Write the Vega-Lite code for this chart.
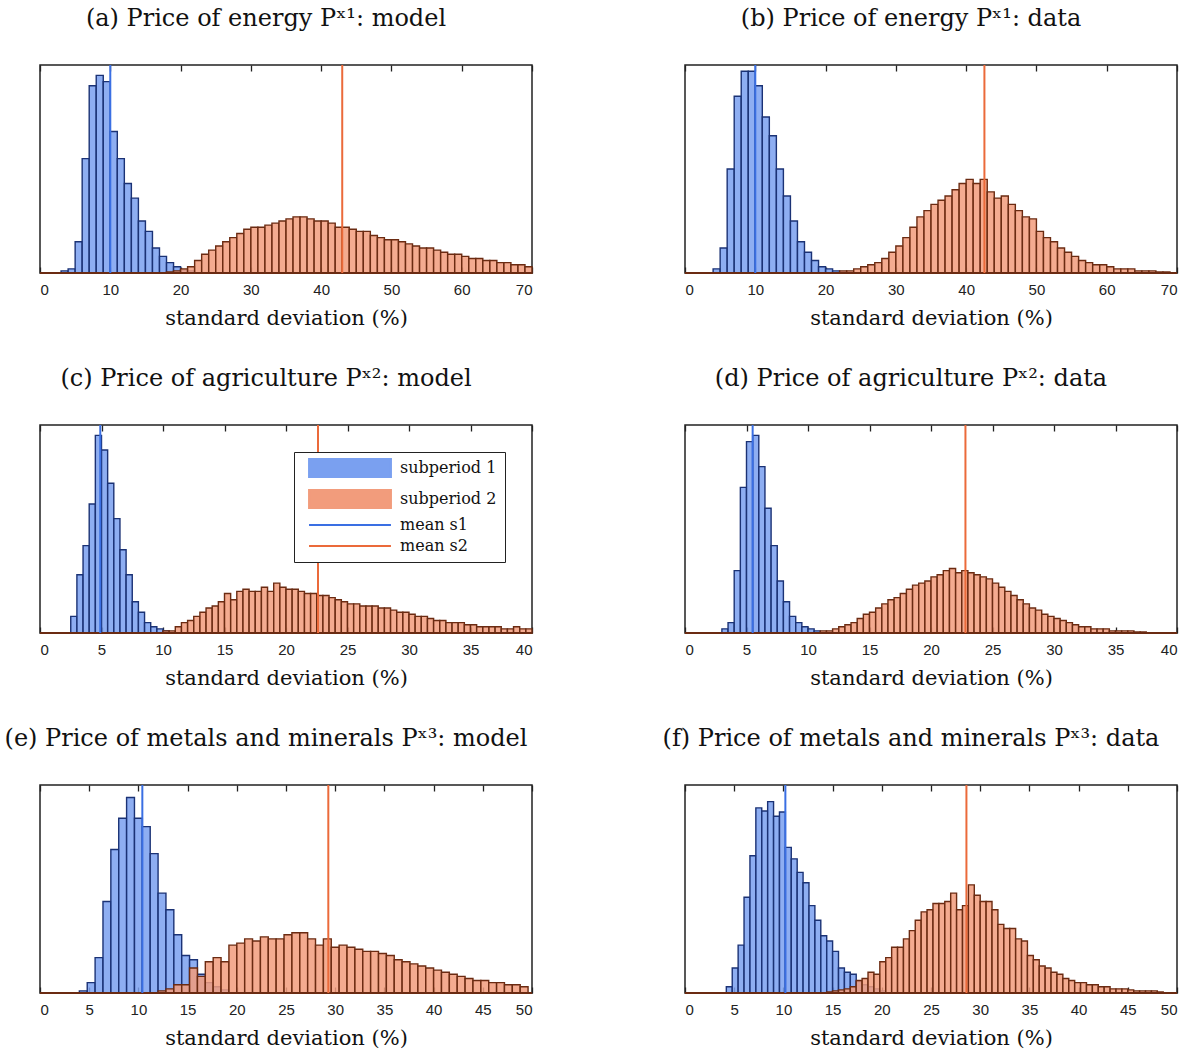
{
  "$schema": "https://vega.github.io/schema/vega-lite/v6.json",
  "padding": {"left": 3, "top": 6, "right": 5, "bottom": 5},
  "background": "white",
  "config": {
    "view": {"stroke": "#222", "strokeWidth": 1.5},
    "axis": {"domain": false, "grid": false, "tickColor": "#222", "tickSize": -6, "tickWidth": 1.3, "labelFont": "Liberation Sans", "labelFontSize": 15, "labelColor": "#222", "labelPadding": 15, "titleFont": "DejaVu Serif", "titleFontSize": 21, "titleFontWeight": "normal", "titleColor": "#111", "titlePadding": 10},
    "title": {"font": "DejaVu Serif", "fontSize": 24, "fontWeight": "normal", "color": "#111", "offset": 33, "dx": -20}
  },
  "datasets": {
    "bars": [
      {"p":"a","s":"subperiod 1","x0":3,"x1":4,"h":0.01},{"p":"a","s":"subperiod 1","x0":4,"x1":5,"h":0.02},{"p":"a","s":"subperiod 1","x0":5,"x1":6,"h":0.15},{"p":"a","s":"subperiod 1","x0":6,"x1":7,"h":0.55},{"p":"a","s":"subperiod 1","x0":7,"x1":8,"h":0.9},{"p":"a","s":"subperiod 1","x0":8,"x1":9,"h":0.95},{"p":"a","s":"subperiod 1","x0":9,"x1":10,"h":0.92},{"p":"a","s":"subperiod 1","x0":10,"x1":11,"h":0.68},{"p":"a","s":"subperiod 1","x0":11,"x1":12,"h":0.55},{"p":"a","s":"subperiod 1","x0":12,"x1":13,"h":0.43},{"p":"a","s":"subperiod 1","x0":13,"x1":14,"h":0.36},{"p":"a","s":"subperiod 1","x0":14,"x1":15,"h":0.25},{"p":"a","s":"subperiod 1","x0":15,"x1":16,"h":0.2},{"p":"a","s":"subperiod 1","x0":16,"x1":17,"h":0.12},{"p":"a","s":"subperiod 1","x0":17,"x1":18,"h":0.08},{"p":"a","s":"subperiod 1","x0":18,"x1":19,"h":0.05},{"p":"a","s":"subperiod 1","x0":19,"x1":20,"h":0.03},{"p":"a","s":"subperiod 1","x0":20,"x1":21,"h":0.015},{"p":"a","s":"subperiod 1","x0":21,"x1":22,"h":0.01},
      {"p":"a","s":"subperiod 2","x0":18,"x1":19,"h":0.005},{"p":"a","s":"subperiod 2","x0":19,"x1":20,"h":0.01},{"p":"a","s":"subperiod 2","x0":20,"x1":21,"h":0.02},{"p":"a","s":"subperiod 2","x0":21,"x1":22,"h":0.03},{"p":"a","s":"subperiod 2","x0":22,"x1":23,"h":0.06},{"p":"a","s":"subperiod 2","x0":23,"x1":24,"h":0.09},{"p":"a","s":"subperiod 2","x0":24,"x1":25,"h":0.11},{"p":"a","s":"subperiod 2","x0":25,"x1":26,"h":0.13},{"p":"a","s":"subperiod 2","x0":26,"x1":27,"h":0.15},{"p":"a","s":"subperiod 2","x0":27,"x1":28,"h":0.17},{"p":"a","s":"subperiod 2","x0":28,"x1":29,"h":0.19},{"p":"a","s":"subperiod 2","x0":29,"x1":30,"h":0.21},{"p":"a","s":"subperiod 2","x0":30,"x1":31,"h":0.22},{"p":"a","s":"subperiod 2","x0":31,"x1":32,"h":0.22},{"p":"a","s":"subperiod 2","x0":32,"x1":33,"h":0.23},{"p":"a","s":"subperiod 2","x0":33,"x1":34,"h":0.24},{"p":"a","s":"subperiod 2","x0":34,"x1":35,"h":0.25},{"p":"a","s":"subperiod 2","x0":35,"x1":36,"h":0.26},{"p":"a","s":"subperiod 2","x0":36,"x1":37,"h":0.27},{"p":"a","s":"subperiod 2","x0":37,"x1":38,"h":0.27},{"p":"a","s":"subperiod 2","x0":38,"x1":39,"h":0.26},{"p":"a","s":"subperiod 2","x0":39,"x1":40,"h":0.25},{"p":"a","s":"subperiod 2","x0":40,"x1":41,"h":0.25},{"p":"a","s":"subperiod 2","x0":41,"x1":42,"h":0.24},{"p":"a","s":"subperiod 2","x0":42,"x1":43,"h":0.22},{"p":"a","s":"subperiod 2","x0":43,"x1":44,"h":0.22},{"p":"a","s":"subperiod 2","x0":44,"x1":45,"h":0.21},{"p":"a","s":"subperiod 2","x0":45,"x1":46,"h":0.2},{"p":"a","s":"subperiod 2","x0":46,"x1":47,"h":0.2},{"p":"a","s":"subperiod 2","x0":47,"x1":48,"h":0.18},{"p":"a","s":"subperiod 2","x0":48,"x1":49,"h":0.17},{"p":"a","s":"subperiod 2","x0":49,"x1":50,"h":0.16},{"p":"a","s":"subperiod 2","x0":50,"x1":51,"h":0.16},{"p":"a","s":"subperiod 2","x0":51,"x1":52,"h":0.15},{"p":"a","s":"subperiod 2","x0":52,"x1":53,"h":0.14},{"p":"a","s":"subperiod 2","x0":53,"x1":54,"h":0.13},{"p":"a","s":"subperiod 2","x0":54,"x1":55,"h":0.12},{"p":"a","s":"subperiod 2","x0":55,"x1":56,"h":0.12},{"p":"a","s":"subperiod 2","x0":56,"x1":57,"h":0.11},{"p":"a","s":"subperiod 2","x0":57,"x1":58,"h":0.1},{"p":"a","s":"subperiod 2","x0":58,"x1":59,"h":0.09},{"p":"a","s":"subperiod 2","x0":59,"x1":60,"h":0.09},{"p":"a","s":"subperiod 2","x0":60,"x1":61,"h":0.08},{"p":"a","s":"subperiod 2","x0":61,"x1":62,"h":0.07},{"p":"a","s":"subperiod 2","x0":62,"x1":63,"h":0.07},{"p":"a","s":"subperiod 2","x0":63,"x1":64,"h":0.06},{"p":"a","s":"subperiod 2","x0":64,"x1":65,"h":0.06},{"p":"a","s":"subperiod 2","x0":65,"x1":66,"h":0.05},{"p":"a","s":"subperiod 2","x0":66,"x1":67,"h":0.05},{"p":"a","s":"subperiod 2","x0":67,"x1":68,"h":0.04},{"p":"a","s":"subperiod 2","x0":68,"x1":69,"h":0.04},{"p":"a","s":"subperiod 2","x0":69,"x1":70,"h":0.03},

      {"p":"b","s":"subperiod 1","x0":4,"x1":5,"h":0.02},{"p":"b","s":"subperiod 1","x0":5,"x1":6,"h":0.12},{"p":"b","s":"subperiod 1","x0":6,"x1":7,"h":0.5},{"p":"b","s":"subperiod 1","x0":7,"x1":8,"h":0.85},{"p":"b","s":"subperiod 1","x0":8,"x1":9,"h":0.97},{"p":"b","s":"subperiod 1","x0":9,"x1":10,"h":0.97},{"p":"b","s":"subperiod 1","x0":10,"x1":11,"h":0.9},{"p":"b","s":"subperiod 1","x0":11,"x1":12,"h":0.75},{"p":"b","s":"subperiod 1","x0":12,"x1":13,"h":0.66},{"p":"b","s":"subperiod 1","x0":13,"x1":14,"h":0.5},{"p":"b","s":"subperiod 1","x0":14,"x1":15,"h":0.37},{"p":"b","s":"subperiod 1","x0":15,"x1":16,"h":0.25},{"p":"b","s":"subperiod 1","x0":16,"x1":17,"h":0.15},{"p":"b","s":"subperiod 1","x0":17,"x1":18,"h":0.1},{"p":"b","s":"subperiod 1","x0":18,"x1":19,"h":0.06},{"p":"b","s":"subperiod 1","x0":19,"x1":20,"h":0.03},{"p":"b","s":"subperiod 1","x0":20,"x1":21,"h":0.02},{"p":"b","s":"subperiod 1","x0":21,"x1":22,"h":0.01},{"p":"b","s":"subperiod 1","x0":22,"x1":23,"h":0.005},
      {"p":"b","s":"subperiod 2","x0":22,"x1":23,"h":0.01},{"p":"b","s":"subperiod 2","x0":23,"x1":24,"h":0.01},{"p":"b","s":"subperiod 2","x0":24,"x1":25,"h":0.02},{"p":"b","s":"subperiod 2","x0":25,"x1":26,"h":0.03},{"p":"b","s":"subperiod 2","x0":26,"x1":27,"h":0.04},{"p":"b","s":"subperiod 2","x0":27,"x1":28,"h":0.05},{"p":"b","s":"subperiod 2","x0":28,"x1":29,"h":0.07},{"p":"b","s":"subperiod 2","x0":29,"x1":30,"h":0.1},{"p":"b","s":"subperiod 2","x0":30,"x1":31,"h":0.13},{"p":"b","s":"subperiod 2","x0":31,"x1":32,"h":0.17},{"p":"b","s":"subperiod 2","x0":32,"x1":33,"h":0.22},{"p":"b","s":"subperiod 2","x0":33,"x1":34,"h":0.27},{"p":"b","s":"subperiod 2","x0":34,"x1":35,"h":0.3},{"p":"b","s":"subperiod 2","x0":35,"x1":36,"h":0.33},{"p":"b","s":"subperiod 2","x0":36,"x1":37,"h":0.35},{"p":"b","s":"subperiod 2","x0":37,"x1":38,"h":0.37},{"p":"b","s":"subperiod 2","x0":38,"x1":39,"h":0.4},{"p":"b","s":"subperiod 2","x0":39,"x1":40,"h":0.43},{"p":"b","s":"subperiod 2","x0":40,"x1":41,"h":0.45},{"p":"b","s":"subperiod 2","x0":41,"x1":42,"h":0.43},{"p":"b","s":"subperiod 2","x0":42,"x1":43,"h":0.45},{"p":"b","s":"subperiod 2","x0":43,"x1":44,"h":0.39},{"p":"b","s":"subperiod 2","x0":44,"x1":45,"h":0.36},{"p":"b","s":"subperiod 2","x0":45,"x1":46,"h":0.37},{"p":"b","s":"subperiod 2","x0":46,"x1":47,"h":0.33},{"p":"b","s":"subperiod 2","x0":47,"x1":48,"h":0.3},{"p":"b","s":"subperiod 2","x0":48,"x1":49,"h":0.27},{"p":"b","s":"subperiod 2","x0":49,"x1":50,"h":0.26},{"p":"b","s":"subperiod 2","x0":50,"x1":51,"h":0.2},{"p":"b","s":"subperiod 2","x0":51,"x1":52,"h":0.17},{"p":"b","s":"subperiod 2","x0":52,"x1":53,"h":0.15},{"p":"b","s":"subperiod 2","x0":53,"x1":54,"h":0.12},{"p":"b","s":"subperiod 2","x0":54,"x1":55,"h":0.1},{"p":"b","s":"subperiod 2","x0":55,"x1":56,"h":0.08},{"p":"b","s":"subperiod 2","x0":56,"x1":57,"h":0.06},{"p":"b","s":"subperiod 2","x0":57,"x1":58,"h":0.05},{"p":"b","s":"subperiod 2","x0":58,"x1":59,"h":0.04},{"p":"b","s":"subperiod 2","x0":59,"x1":60,"h":0.04},{"p":"b","s":"subperiod 2","x0":60,"x1":61,"h":0.03},{"p":"b","s":"subperiod 2","x0":61,"x1":62,"h":0.02},{"p":"b","s":"subperiod 2","x0":62,"x1":63,"h":0.02},{"p":"b","s":"subperiod 2","x0":63,"x1":64,"h":0.02},{"p":"b","s":"subperiod 2","x0":64,"x1":65,"h":0.01},{"p":"b","s":"subperiod 2","x0":65,"x1":66,"h":0.01},{"p":"b","s":"subperiod 2","x0":66,"x1":67,"h":0.01},{"p":"b","s":"subperiod 2","x0":67,"x1":68,"h":0.005},{"p":"b","s":"subperiod 2","x0":68,"x1":69,"h":0.005},

      {"p":"c","s":"subperiod 1","x0":2.5,"x1":3,"h":0.08},{"p":"c","s":"subperiod 1","x0":3,"x1":3.5,"h":0.28},{"p":"c","s":"subperiod 1","x0":3.5,"x1":4,"h":0.42},{"p":"c","s":"subperiod 1","x0":4,"x1":4.5,"h":0.62},{"p":"c","s":"subperiod 1","x0":4.5,"x1":5,"h":0.95},{"p":"c","s":"subperiod 1","x0":5,"x1":5.5,"h":0.88},{"p":"c","s":"subperiod 1","x0":5.5,"x1":6,"h":0.72},{"p":"c","s":"subperiod 1","x0":6,"x1":6.5,"h":0.55},{"p":"c","s":"subperiod 1","x0":6.5,"x1":7,"h":0.4},{"p":"c","s":"subperiod 1","x0":7,"x1":7.5,"h":0.28},{"p":"c","s":"subperiod 1","x0":7.5,"x1":8,"h":0.15},{"p":"c","s":"subperiod 1","x0":8,"x1":8.5,"h":0.1},{"p":"c","s":"subperiod 1","x0":8.5,"x1":9,"h":0.05},{"p":"c","s":"subperiod 1","x0":9,"x1":9.5,"h":0.03},{"p":"c","s":"subperiod 1","x0":9.5,"x1":10,"h":0.02},{"p":"c","s":"subperiod 1","x0":10,"x1":10.5,"h":0.01},
      {"p":"c","s":"subperiod 2","x0":10,"x1":10.5,"h":0.01},{"p":"c","s":"subperiod 2","x0":10.5,"x1":11,"h":0.01},{"p":"c","s":"subperiod 2","x0":11,"x1":11.5,"h":0.03},{"p":"c","s":"subperiod 2","x0":11.5,"x1":12,"h":0.05},{"p":"c","s":"subperiod 2","x0":12,"x1":12.5,"h":0.06},{"p":"c","s":"subperiod 2","x0":12.5,"x1":13,"h":0.08},{"p":"c","s":"subperiod 2","x0":13,"x1":13.5,"h":0.1},{"p":"c","s":"subperiod 2","x0":13.5,"x1":14,"h":0.12},{"p":"c","s":"subperiod 2","x0":14,"x1":14.5,"h":0.13},{"p":"c","s":"subperiod 2","x0":14.5,"x1":15,"h":0.15},{"p":"c","s":"subperiod 2","x0":15,"x1":15.5,"h":0.19},{"p":"c","s":"subperiod 2","x0":15.5,"x1":16,"h":0.16},{"p":"c","s":"subperiod 2","x0":16,"x1":16.5,"h":0.2},{"p":"c","s":"subperiod 2","x0":16.5,"x1":17,"h":0.21},{"p":"c","s":"subperiod 2","x0":17,"x1":17.5,"h":0.2},{"p":"c","s":"subperiod 2","x0":17.5,"x1":18,"h":0.2},{"p":"c","s":"subperiod 2","x0":18,"x1":18.5,"h":0.22},{"p":"c","s":"subperiod 2","x0":18.5,"x1":19,"h":0.2},{"p":"c","s":"subperiod 2","x0":19,"x1":19.5,"h":0.24},{"p":"c","s":"subperiod 2","x0":19.5,"x1":20,"h":0.22},{"p":"c","s":"subperiod 2","x0":20,"x1":20.5,"h":0.21},{"p":"c","s":"subperiod 2","x0":20.5,"x1":21,"h":0.21},{"p":"c","s":"subperiod 2","x0":21,"x1":21.5,"h":0.2},{"p":"c","s":"subperiod 2","x0":21.5,"x1":22,"h":0.19},{"p":"c","s":"subperiod 2","x0":22,"x1":22.5,"h":0.19},{"p":"c","s":"subperiod 2","x0":22.5,"x1":23,"h":0.18},{"p":"c","s":"subperiod 2","x0":23,"x1":23.5,"h":0.18},{"p":"c","s":"subperiod 2","x0":23.5,"x1":24,"h":0.17},{"p":"c","s":"subperiod 2","x0":24,"x1":24.5,"h":0.16},{"p":"c","s":"subperiod 2","x0":24.5,"x1":25,"h":0.15},{"p":"c","s":"subperiod 2","x0":25,"x1":25.5,"h":0.14},{"p":"c","s":"subperiod 2","x0":25.5,"x1":26,"h":0.14},{"p":"c","s":"subperiod 2","x0":26,"x1":26.5,"h":0.13},{"p":"c","s":"subperiod 2","x0":26.5,"x1":27,"h":0.13},{"p":"c","s":"subperiod 2","x0":27,"x1":27.5,"h":0.13},{"p":"c","s":"subperiod 2","x0":27.5,"x1":28,"h":0.12},{"p":"c","s":"subperiod 2","x0":28,"x1":28.5,"h":0.12},{"p":"c","s":"subperiod 2","x0":28.5,"x1":29,"h":0.11},{"p":"c","s":"subperiod 2","x0":29,"x1":29.5,"h":0.1},{"p":"c","s":"subperiod 2","x0":29.5,"x1":30,"h":0.1},{"p":"c","s":"subperiod 2","x0":30,"x1":30.5,"h":0.09},{"p":"c","s":"subperiod 2","x0":30.5,"x1":31,"h":0.08},{"p":"c","s":"subperiod 2","x0":31,"x1":31.5,"h":0.08},{"p":"c","s":"subperiod 2","x0":31.5,"x1":32,"h":0.07},{"p":"c","s":"subperiod 2","x0":32,"x1":32.5,"h":0.06},{"p":"c","s":"subperiod 2","x0":32.5,"x1":33,"h":0.06},{"p":"c","s":"subperiod 2","x0":33,"x1":33.5,"h":0.05},{"p":"c","s":"subperiod 2","x0":33.5,"x1":34,"h":0.05},{"p":"c","s":"subperiod 2","x0":34,"x1":34.5,"h":0.05},{"p":"c","s":"subperiod 2","x0":34.5,"x1":35,"h":0.04},{"p":"c","s":"subperiod 2","x0":35,"x1":35.5,"h":0.04},{"p":"c","s":"subperiod 2","x0":35.5,"x1":36,"h":0.03},{"p":"c","s":"subperiod 2","x0":36,"x1":36.5,"h":0.03},{"p":"c","s":"subperiod 2","x0":36.5,"x1":37,"h":0.03},{"p":"c","s":"subperiod 2","x0":37,"x1":37.5,"h":0.03},{"p":"c","s":"subperiod 2","x0":37.5,"x1":38,"h":0.02},{"p":"c","s":"subperiod 2","x0":38,"x1":38.5,"h":0.02},{"p":"c","s":"subperiod 2","x0":38.5,"x1":39,"h":0.03},{"p":"c","s":"subperiod 2","x0":39,"x1":39.5,"h":0.02},{"p":"c","s":"subperiod 2","x0":39.5,"x1":40,"h":0.02},

      {"p":"d","s":"subperiod 1","x0":3,"x1":3.5,"h":0.02},{"p":"d","s":"subperiod 1","x0":3.5,"x1":4,"h":0.05},{"p":"d","s":"subperiod 1","x0":4,"x1":4.5,"h":0.3},{"p":"d","s":"subperiod 1","x0":4.5,"x1":5,"h":0.7},{"p":"d","s":"subperiod 1","x0":5,"x1":5.5,"h":0.92},{"p":"d","s":"subperiod 1","x0":5.5,"x1":6,"h":0.95},{"p":"d","s":"subperiod 1","x0":6,"x1":6.5,"h":0.8},{"p":"d","s":"subperiod 1","x0":6.5,"x1":7,"h":0.6},{"p":"d","s":"subperiod 1","x0":7,"x1":7.5,"h":0.42},{"p":"d","s":"subperiod 1","x0":7.5,"x1":8,"h":0.25},{"p":"d","s":"subperiod 1","x0":8,"x1":8.5,"h":0.15},{"p":"d","s":"subperiod 1","x0":8.5,"x1":9,"h":0.08},{"p":"d","s":"subperiod 1","x0":9,"x1":9.5,"h":0.05},{"p":"d","s":"subperiod 1","x0":9.5,"x1":10,"h":0.03},{"p":"d","s":"subperiod 1","x0":10,"x1":10.5,"h":0.02},{"p":"d","s":"subperiod 1","x0":10.5,"x1":11,"h":0.01},
      {"p":"d","s":"subperiod 2","x0":11,"x1":11.5,"h":0.01},{"p":"d","s":"subperiod 2","x0":11.5,"x1":12,"h":0.01},{"p":"d","s":"subperiod 2","x0":12,"x1":12.5,"h":0.02},{"p":"d","s":"subperiod 2","x0":12.5,"x1":13,"h":0.03},{"p":"d","s":"subperiod 2","x0":13,"x1":13.5,"h":0.04},{"p":"d","s":"subperiod 2","x0":13.5,"x1":14,"h":0.05},{"p":"d","s":"subperiod 2","x0":14,"x1":14.5,"h":0.07},{"p":"d","s":"subperiod 2","x0":14.5,"x1":15,"h":0.09},{"p":"d","s":"subperiod 2","x0":15,"x1":15.5,"h":0.1},{"p":"d","s":"subperiod 2","x0":15.5,"x1":16,"h":0.12},{"p":"d","s":"subperiod 2","x0":16,"x1":16.5,"h":0.14},{"p":"d","s":"subperiod 2","x0":16.5,"x1":17,"h":0.16},{"p":"d","s":"subperiod 2","x0":17,"x1":17.5,"h":0.17},{"p":"d","s":"subperiod 2","x0":17.5,"x1":18,"h":0.19},{"p":"d","s":"subperiod 2","x0":18,"x1":18.5,"h":0.21},{"p":"d","s":"subperiod 2","x0":18.5,"x1":19,"h":0.23},{"p":"d","s":"subperiod 2","x0":19,"x1":19.5,"h":0.24},{"p":"d","s":"subperiod 2","x0":19.5,"x1":20,"h":0.25},{"p":"d","s":"subperiod 2","x0":20,"x1":20.5,"h":0.27},{"p":"d","s":"subperiod 2","x0":20.5,"x1":21,"h":0.28},{"p":"d","s":"subperiod 2","x0":21,"x1":21.5,"h":0.3},{"p":"d","s":"subperiod 2","x0":21.5,"x1":22,"h":0.31},{"p":"d","s":"subperiod 2","x0":22,"x1":22.5,"h":0.29},{"p":"d","s":"subperiod 2","x0":22.5,"x1":23,"h":0.3},{"p":"d","s":"subperiod 2","x0":23,"x1":23.5,"h":0.29},{"p":"d","s":"subperiod 2","x0":23.5,"x1":24,"h":0.28},{"p":"d","s":"subperiod 2","x0":24,"x1":24.5,"h":0.27},{"p":"d","s":"subperiod 2","x0":24.5,"x1":25,"h":0.26},{"p":"d","s":"subperiod 2","x0":25,"x1":25.5,"h":0.24},{"p":"d","s":"subperiod 2","x0":25.5,"x1":26,"h":0.22},{"p":"d","s":"subperiod 2","x0":26,"x1":26.5,"h":0.2},{"p":"d","s":"subperiod 2","x0":26.5,"x1":27,"h":0.18},{"p":"d","s":"subperiod 2","x0":27,"x1":27.5,"h":0.16},{"p":"d","s":"subperiod 2","x0":27.5,"x1":28,"h":0.14},{"p":"d","s":"subperiod 2","x0":28,"x1":28.5,"h":0.12},{"p":"d","s":"subperiod 2","x0":28.5,"x1":29,"h":0.11},{"p":"d","s":"subperiod 2","x0":29,"x1":29.5,"h":0.09},{"p":"d","s":"subperiod 2","x0":29.5,"x1":30,"h":0.08},{"p":"d","s":"subperiod 2","x0":30,"x1":30.5,"h":0.07},{"p":"d","s":"subperiod 2","x0":30.5,"x1":31,"h":0.06},{"p":"d","s":"subperiod 2","x0":31,"x1":31.5,"h":0.05},{"p":"d","s":"subperiod 2","x0":31.5,"x1":32,"h":0.04},{"p":"d","s":"subperiod 2","x0":32,"x1":32.5,"h":0.03},{"p":"d","s":"subperiod 2","x0":32.5,"x1":33,"h":0.03},{"p":"d","s":"subperiod 2","x0":33,"x1":33.5,"h":0.02},{"p":"d","s":"subperiod 2","x0":33.5,"x1":34,"h":0.02},{"p":"d","s":"subperiod 2","x0":34,"x1":34.5,"h":0.02},{"p":"d","s":"subperiod 2","x0":34.5,"x1":35,"h":0.01},{"p":"d","s":"subperiod 2","x0":35,"x1":35.5,"h":0.01},{"p":"d","s":"subperiod 2","x0":35.5,"x1":36,"h":0.01},{"p":"d","s":"subperiod 2","x0":36,"x1":36.5,"h":0.01},{"p":"d","s":"subperiod 2","x0":36.5,"x1":37,"h":0.005},{"p":"d","s":"subperiod 2","x0":37,"x1":37.5,"h":0.005},

      {"p":"e","s":"subperiod 1","x0":4.0,"x1":4.8,"h":0.01},{"p":"e","s":"subperiod 1","x0":4.8,"x1":5.6,"h":0.05},{"p":"e","s":"subperiod 1","x0":5.6,"x1":6.4,"h":0.17},{"p":"e","s":"subperiod 1","x0":6.4,"x1":7.2,"h":0.44},{"p":"e","s":"subperiod 1","x0":7.2,"x1":8.0,"h":0.69},{"p":"e","s":"subperiod 1","x0":8.0,"x1":8.8,"h":0.84},{"p":"e","s":"subperiod 1","x0":8.8,"x1":9.6,"h":0.94},{"p":"e","s":"subperiod 1","x0":9.6,"x1":10.4,"h":0.84},{"p":"e","s":"subperiod 1","x0":10.4,"x1":11.2,"h":0.8},{"p":"e","s":"subperiod 1","x0":11.2,"x1":12.0,"h":0.67},{"p":"e","s":"subperiod 1","x0":12.0,"x1":12.8,"h":0.48},{"p":"e","s":"subperiod 1","x0":12.8,"x1":13.6,"h":0.4},{"p":"e","s":"subperiod 1","x0":13.6,"x1":14.4,"h":0.28},{"p":"e","s":"subperiod 1","x0":14.4,"x1":15.2,"h":0.18},{"p":"e","s":"subperiod 1","x0":15.2,"x1":16.0,"h":0.16},{"p":"e","s":"subperiod 1","x0":16.0,"x1":16.8,"h":0.09},{"p":"e","s":"subperiod 1","x0":16.8,"x1":17.6,"h":0.05},{"p":"e","s":"subperiod 1","x0":17.6,"x1":18.4,"h":0.03},{"p":"e","s":"subperiod 1","x0":18.4,"x1":19.2,"h":0.015},
      {"p":"e","s":"subperiod 2","x0":12.0,"x1":12.8,"h":0.01},{"p":"e","s":"subperiod 2","x0":12.8,"x1":13.6,"h":0.02},{"p":"e","s":"subperiod 2","x0":13.6,"x1":14.4,"h":0.04},{"p":"e","s":"subperiod 2","x0":14.4,"x1":15.2,"h":0.04},{"p":"e","s":"subperiod 2","x0":15.2,"x1":16.0,"h":0.12},{"p":"e","s":"subperiod 2","x0":16.0,"x1":16.8,"h":0.08},{"p":"e","s":"subperiod 2","x0":16.8,"x1":17.6,"h":0.15},{"p":"e","s":"subperiod 2","x0":17.6,"x1":18.4,"h":0.17},{"p":"e","s":"subperiod 2","x0":18.4,"x1":19.2,"h":0.15},{"p":"e","s":"subperiod 2","x0":19.2,"x1":20.0,"h":0.23},{"p":"e","s":"subperiod 2","x0":20.0,"x1":20.8,"h":0.24},{"p":"e","s":"subperiod 2","x0":20.8,"x1":21.6,"h":0.26},{"p":"e","s":"subperiod 2","x0":21.6,"x1":22.4,"h":0.25},{"p":"e","s":"subperiod 2","x0":22.4,"x1":23.2,"h":0.27},{"p":"e","s":"subperiod 2","x0":23.2,"x1":24.0,"h":0.26},{"p":"e","s":"subperiod 2","x0":24.0,"x1":24.8,"h":0.26},{"p":"e","s":"subperiod 2","x0":24.8,"x1":25.6,"h":0.28},{"p":"e","s":"subperiod 2","x0":25.6,"x1":26.4,"h":0.29},{"p":"e","s":"subperiod 2","x0":26.4,"x1":27.2,"h":0.29},{"p":"e","s":"subperiod 2","x0":27.2,"x1":28.0,"h":0.26},{"p":"e","s":"subperiod 2","x0":28.0,"x1":28.8,"h":0.23},{"p":"e","s":"subperiod 2","x0":28.8,"x1":29.6,"h":0.26},{"p":"e","s":"subperiod 2","x0":29.6,"x1":30.4,"h":0.22},{"p":"e","s":"subperiod 2","x0":30.4,"x1":31.2,"h":0.23},{"p":"e","s":"subperiod 2","x0":31.2,"x1":32.0,"h":0.22},{"p":"e","s":"subperiod 2","x0":32.0,"x1":32.8,"h":0.21},{"p":"e","s":"subperiod 2","x0":32.8,"x1":33.6,"h":0.2},{"p":"e","s":"subperiod 2","x0":33.6,"x1":34.4,"h":0.2},{"p":"e","s":"subperiod 2","x0":34.4,"x1":35.2,"h":0.19},{"p":"e","s":"subperiod 2","x0":35.2,"x1":36.0,"h":0.18},{"p":"e","s":"subperiod 2","x0":36.0,"x1":36.8,"h":0.16},{"p":"e","s":"subperiod 2","x0":36.8,"x1":37.6,"h":0.15},{"p":"e","s":"subperiod 2","x0":37.6,"x1":38.4,"h":0.14},{"p":"e","s":"subperiod 2","x0":38.4,"x1":39.2,"h":0.13},{"p":"e","s":"subperiod 2","x0":39.2,"x1":40.0,"h":0.12},{"p":"e","s":"subperiod 2","x0":40.0,"x1":40.8,"h":0.11},{"p":"e","s":"subperiod 2","x0":40.8,"x1":41.6,"h":0.1},{"p":"e","s":"subperiod 2","x0":41.6,"x1":42.4,"h":0.09},{"p":"e","s":"subperiod 2","x0":42.4,"x1":43.2,"h":0.08},{"p":"e","s":"subperiod 2","x0":43.2,"x1":44.0,"h":0.07},{"p":"e","s":"subperiod 2","x0":44.0,"x1":44.8,"h":0.06},{"p":"e","s":"subperiod 2","x0":44.8,"x1":45.6,"h":0.06},{"p":"e","s":"subperiod 2","x0":45.6,"x1":46.4,"h":0.05},{"p":"e","s":"subperiod 2","x0":46.4,"x1":47.2,"h":0.05},{"p":"e","s":"subperiod 2","x0":47.2,"x1":48.0,"h":0.04},{"p":"e","s":"subperiod 2","x0":48.0,"x1":48.8,"h":0.04},{"p":"e","s":"subperiod 2","x0":48.8,"x1":49.6,"h":0.03},

      {"p":"f","s":"subperiod 1","x0":4.2,"x1":4.8,"h":0.03},{"p":"f","s":"subperiod 1","x0":4.8,"x1":5.4,"h":0.12},{"p":"f","s":"subperiod 1","x0":5.4,"x1":6.0,"h":0.23},{"p":"f","s":"subperiod 1","x0":6.0,"x1":6.6,"h":0.46},{"p":"f","s":"subperiod 1","x0":6.6,"x1":7.2,"h":0.66},{"p":"f","s":"subperiod 1","x0":7.2,"x1":7.8,"h":0.89},{"p":"f","s":"subperiod 1","x0":7.8,"x1":8.4,"h":0.875},{"p":"f","s":"subperiod 1","x0":8.4,"x1":9.0,"h":0.92},{"p":"f","s":"subperiod 1","x0":9.0,"x1":9.6,"h":0.85},{"p":"f","s":"subperiod 1","x0":9.6,"x1":10.2,"h":0.87},{"p":"f","s":"subperiod 1","x0":10.2,"x1":10.8,"h":0.7},{"p":"f","s":"subperiod 1","x0":10.8,"x1":11.4,"h":0.645},{"p":"f","s":"subperiod 1","x0":11.4,"x1":12.0,"h":0.58},{"p":"f","s":"subperiod 1","x0":12.0,"x1":12.6,"h":0.53},{"p":"f","s":"subperiod 1","x0":12.6,"x1":13.2,"h":0.42},{"p":"f","s":"subperiod 1","x0":13.2,"x1":13.8,"h":0.35},{"p":"f","s":"subperiod 1","x0":13.8,"x1":14.4,"h":0.275},{"p":"f","s":"subperiod 1","x0":14.4,"x1":15.0,"h":0.25},{"p":"f","s":"subperiod 1","x0":15.0,"x1":15.6,"h":0.2},{"p":"f","s":"subperiod 1","x0":15.6,"x1":16.2,"h":0.12},{"p":"f","s":"subperiod 1","x0":16.2,"x1":16.8,"h":0.1},{"p":"f","s":"subperiod 1","x0":16.8,"x1":17.4,"h":0.09},{"p":"f","s":"subperiod 1","x0":17.4,"x1":18.0,"h":0.055},{"p":"f","s":"subperiod 1","x0":18.0,"x1":18.6,"h":0.04},{"p":"f","s":"subperiod 1","x0":18.6,"x1":19.2,"h":0.03},{"p":"f","s":"subperiod 1","x0":19.2,"x1":19.8,"h":0.02},{"p":"f","s":"subperiod 1","x0":19.8,"x1":20.4,"h":0.01},
      {"p":"f","s":"subperiod 2","x0":14.4,"x1":15.0,"h":0.005},{"p":"f","s":"subperiod 2","x0":15.0,"x1":15.6,"h":0.01},{"p":"f","s":"subperiod 2","x0":15.6,"x1":16.2,"h":0.015},{"p":"f","s":"subperiod 2","x0":16.2,"x1":16.8,"h":0.02},{"p":"f","s":"subperiod 2","x0":16.8,"x1":17.4,"h":0.03},{"p":"f","s":"subperiod 2","x0":17.4,"x1":18.0,"h":0.06},{"p":"f","s":"subperiod 2","x0":18.0,"x1":18.6,"h":0.07},{"p":"f","s":"subperiod 2","x0":18.6,"x1":19.2,"h":0.1},{"p":"f","s":"subperiod 2","x0":19.2,"x1":19.8,"h":0.09},{"p":"f","s":"subperiod 2","x0":19.8,"x1":20.4,"h":0.15},{"p":"f","s":"subperiod 2","x0":20.4,"x1":21.0,"h":0.17},{"p":"f","s":"subperiod 2","x0":21.0,"x1":21.6,"h":0.22},{"p":"f","s":"subperiod 2","x0":21.6,"x1":22.2,"h":0.22},{"p":"f","s":"subperiod 2","x0":22.2,"x1":22.8,"h":0.26},{"p":"f","s":"subperiod 2","x0":22.8,"x1":23.4,"h":0.3},{"p":"f","s":"subperiod 2","x0":23.4,"x1":24.0,"h":0.35},{"p":"f","s":"subperiod 2","x0":24.0,"x1":24.6,"h":0.39},{"p":"f","s":"subperiod 2","x0":24.6,"x1":25.2,"h":0.4},{"p":"f","s":"subperiod 2","x0":25.2,"x1":25.8,"h":0.43},{"p":"f","s":"subperiod 2","x0":25.8,"x1":26.4,"h":0.43},{"p":"f","s":"subperiod 2","x0":26.4,"x1":27.0,"h":0.44},{"p":"f","s":"subperiod 2","x0":27.0,"x1":27.6,"h":0.48},{"p":"f","s":"subperiod 2","x0":27.6,"x1":28.2,"h":0.4},{"p":"f","s":"subperiod 2","x0":28.2,"x1":28.8,"h":0.42},{"p":"f","s":"subperiod 2","x0":28.8,"x1":29.4,"h":0.52},{"p":"f","s":"subperiod 2","x0":29.4,"x1":30.0,"h":0.47},{"p":"f","s":"subperiod 2","x0":30.0,"x1":30.6,"h":0.44},{"p":"f","s":"subperiod 2","x0":30.6,"x1":31.2,"h":0.44},{"p":"f","s":"subperiod 2","x0":31.2,"x1":31.8,"h":0.4},{"p":"f","s":"subperiod 2","x0":31.8,"x1":32.4,"h":0.33},{"p":"f","s":"subperiod 2","x0":32.4,"x1":33.0,"h":0.31},{"p":"f","s":"subperiod 2","x0":33.0,"x1":33.6,"h":0.31},{"p":"f","s":"subperiod 2","x0":33.6,"x1":34.2,"h":0.26},{"p":"f","s":"subperiod 2","x0":34.2,"x1":34.8,"h":0.25},{"p":"f","s":"subperiod 2","x0":34.8,"x1":35.4,"h":0.18},{"p":"f","s":"subperiod 2","x0":35.4,"x1":36.0,"h":0.16},{"p":"f","s":"subperiod 2","x0":36.0,"x1":36.6,"h":0.13},{"p":"f","s":"subperiod 2","x0":36.6,"x1":37.2,"h":0.12},{"p":"f","s":"subperiod 2","x0":37.2,"x1":37.8,"h":0.1},{"p":"f","s":"subperiod 2","x0":37.8,"x1":38.4,"h":0.09},{"p":"f","s":"subperiod 2","x0":38.4,"x1":39.0,"h":0.07},{"p":"f","s":"subperiod 2","x0":39.0,"x1":39.6,"h":0.06},{"p":"f","s":"subperiod 2","x0":39.6,"x1":40.2,"h":0.05},{"p":"f","s":"subperiod 2","x0":40.2,"x1":40.8,"h":0.05},{"p":"f","s":"subperiod 2","x0":40.8,"x1":41.4,"h":0.04},{"p":"f","s":"subperiod 2","x0":41.4,"x1":42.0,"h":0.04},{"p":"f","s":"subperiod 2","x0":42.0,"x1":42.6,"h":0.03},{"p":"f","s":"subperiod 2","x0":42.6,"x1":43.2,"h":0.03},{"p":"f","s":"subperiod 2","x0":43.2,"x1":43.8,"h":0.02},{"p":"f","s":"subperiod 2","x0":43.8,"x1":44.4,"h":0.02},{"p":"f","s":"subperiod 2","x0":44.4,"x1":45.0,"h":0.02},{"p":"f","s":"subperiod 2","x0":45.0,"x1":45.6,"h":0.015},{"p":"f","s":"subperiod 2","x0":45.6,"x1":46.2,"h":0.01},{"p":"f","s":"subperiod 2","x0":46.2,"x1":46.8,"h":0.01},{"p":"f","s":"subperiod 2","x0":46.8,"x1":47.4,"h":0.01},{"p":"f","s":"subperiod 2","x0":47.4,"x1":48.0,"h":0.01},{"p":"f","s":"subperiod 2","x0":48.0,"x1":48.6,"h":0.005}
    ],
    "means": [
      {"p":"a","s":"mean s1","v":10.0},{"p":"a","s":"mean s2","v":43.0},
      {"p":"b","s":"mean s1","v":10.0},{"p":"b","s":"mean s2","v":42.6},
      {"p":"c","s":"mean s1","v":4.9},{"p":"c","s":"mean s2","v":22.6},
      {"p":"d","s":"mean s1","v":5.5},{"p":"d","s":"mean s2","v":22.8},
      {"p":"e","s":"mean s1","v":10.4},{"p":"e","s":"mean s2","v":29.3},
      {"p":"f","s":"mean s1","v":10.2},{"p":"f","s":"mean s2","v":28.6}
    ]
  },
  "columns": 2,
  "bounds": "flush",
  "spacing": {"row": 152, "column": 153},
  "resolve": {"scale": {"color": "independent", "stroke": "independent", "x": "independent"}},
  "concat": [
    {"width": 492, "height": 208, "title": "(a) Price of energy Pˣ¹: model",
     "layer": [
      {"data": {"name": "bars"}, "transform": [{"filter": "datum.p == 'a'"}], "mark": {"type": "bar", "strokeWidth": 1.4, "fillOpacity": 0.85},
       "encoding": {"x": {"field": "x0", "type": "quantitative", "scale": {"domain": [0, 70], "nice": false, "zero": false}, "axis": {"values": [0,10,20,30,40,50,60,70], "title": "standard deviation (%)"}}, "x2": {"field": "x1"},
        "y": {"field": "h", "type": "quantitative", "scale": {"domain": [0, 1], "nice": false}, "axis": null}, "y2": {"datum": 0},
        "color": {"field": "s", "type": "nominal", "scale": {"domain": ["subperiod 1","subperiod 2","mean s1","mean s2"], "range": ["#7aa0f0","#f29c7c","#3a6fe3","#eb6a3a"]}, "legend": null},
        "stroke": {"field": "s", "type": "nominal", "scale": {"domain": ["subperiod 1","subperiod 2"], "range": ["#1b3275","#6b2b12"]}, "legend": null}}},
      {"data": {"values": [{}]}, "mark": {"type": "rule", "color": "#6b2b12", "strokeWidth": 2}, "encoding": {"y": {"datum": 0}}},
      {"data": {"name": "means"}, "transform": [{"filter": "datum.p == 'a'"}], "mark": {"type": "rule", "strokeWidth": 2},
       "encoding": {"x": {"field": "v", "type": "quantitative", "axis": {"orient": "top", "labels": false, "title": null, "values": [0,10,20,30,40,50,60,70]}},
        "color": {"field": "s", "type": "nominal", "legend": null}}}
     ], "resolve": {"axis": {"x": "independent"}}},
    {"width": 492, "height": 208, "title": "(b) Price of energy Pˣ¹: data",
     "layer": [
      {"data": {"name": "bars"}, "transform": [{"filter": "datum.p == 'b'"}], "mark": {"type": "bar", "strokeWidth": 1.4, "fillOpacity": 0.85},
       "encoding": {"x": {"field": "x0", "type": "quantitative", "scale": {"domain": [0, 70], "nice": false, "zero": false}, "axis": {"values": [0,10,20,30,40,50,60,70], "title": "standard deviation (%)"}}, "x2": {"field": "x1"},
        "y": {"field": "h", "type": "quantitative", "scale": {"domain": [0, 1], "nice": false}, "axis": null}, "y2": {"datum": 0},
        "color": {"field": "s", "type": "nominal", "scale": {"domain": ["subperiod 1","subperiod 2","mean s1","mean s2"], "range": ["#7aa0f0","#f29c7c","#3a6fe3","#eb6a3a"]}, "legend": null},
        "stroke": {"field": "s", "type": "nominal", "scale": {"domain": ["subperiod 1","subperiod 2"], "range": ["#1b3275","#6b2b12"]}, "legend": null}}},
      {"data": {"values": [{}]}, "mark": {"type": "rule", "color": "#6b2b12", "strokeWidth": 2}, "encoding": {"y": {"datum": 0}}},
      {"data": {"name": "means"}, "transform": [{"filter": "datum.p == 'b'"}], "mark": {"type": "rule", "strokeWidth": 2},
       "encoding": {"x": {"field": "v", "type": "quantitative", "axis": {"orient": "top", "labels": false, "title": null, "values": [0,10,20,30,40,50,60,70]}},
        "color": {"field": "s", "type": "nominal", "legend": null}}}
     ], "resolve": {"axis": {"x": "independent"}}},
    {"width": 492, "height": 208, "title": "(c) Price of agriculture Pˣ²: model",
     "layer": [
      {"data": {"name": "bars"}, "transform": [{"filter": "datum.p == 'c'"}], "mark": {"type": "bar", "strokeWidth": 1.4, "fillOpacity": 0.85},
       "encoding": {"x": {"field": "x0", "type": "quantitative", "scale": {"domain": [0, 40], "nice": false, "zero": false}, "axis": {"values": [0,5,10,15,20,25,30,35,40], "title": "standard deviation (%)"}}, "x2": {"field": "x1"},
        "y": {"field": "h", "type": "quantitative", "scale": {"domain": [0, 1], "nice": false}, "axis": null}, "y2": {"datum": 0},
        "color": {"field": "s", "type": "nominal", "scale": {"domain": ["subperiod 1","subperiod 2","mean s1","mean s2"], "range": ["#7aa0f0","#f29c7c","#3a6fe3","#eb6a3a"]},
         "legend": {"orient": "top-right", "offset": 27, "title": null, "strokeColor": "#222", "fillColor": "white", "padding": 8, "rowPadding": 5, "labelFont": "DejaVu Serif", "labelFontSize": 16, "labelColor": "#111", "symbolSize": 324, "symbolOffset": 40, "labelOffset": 42, "symbolStrokeWidth": 2, "symbolStrokeColor": "#1b3275", "symbolOpacity": 1,
          "encode": {"symbols": {
            "enter": {"stroke": {"signal": "datum.value == 'subperiod 1' ? '#1b3275' : datum.value == 'subperiod 2' ? '#6b2b12' : datum.value == 'mean s1' ? '#3a6fe3' : '#eb6a3a'"}},
            "update": {
            "shape": {"signal": "indexof(['mean s1','mean s2'], datum.value) >= 0 ? 'M-4.55,-0.12H4.55V0.12H-4.55Z' : 'M-4.55,-1H4.55V1H-4.55Z'"},
            "stroke": {"signal": "datum.value == 'subperiod 1' ? '#1b3275' : datum.value == 'subperiod 2' ? '#6b2b12' : datum.value == 'mean s1' ? '#3a6fe3' : '#eb6a3a'"},
            "strokeOpacity": {"value": 1}, "opacity": {"value": 1},
            "strokeWidth": {"signal": "indexof(['mean s1','mean s2'], datum.value) >= 0 ? 0 : 2"}}}}}},
        "stroke": {"field": "s", "type": "nominal", "scale": {"domain": ["subperiod 1","subperiod 2"], "range": ["#1b3275","#6b2b12"]}, "legend": null}}},
      {"data": {"values": [{}]}, "mark": {"type": "rule", "color": "#6b2b12", "strokeWidth": 2}, "encoding": {"y": {"datum": 0}}},
      {"data": {"name": "means"}, "transform": [{"filter": "datum.p == 'c'"}], "mark": {"type": "rule", "strokeWidth": 2},
       "encoding": {"x": {"field": "v", "type": "quantitative", "axis": {"orient": "top", "labels": false, "title": null, "values": [0,5,10,15,20,25,30,35,40]}},
        "color": {"field": "s", "type": "nominal"}}}
     ], "resolve": {"axis": {"x": "independent"}}},
    {"width": 492, "height": 208, "title": "(d) Price of agriculture Pˣ²: data",
     "layer": [
      {"data": {"name": "bars"}, "transform": [{"filter": "datum.p == 'd'"}], "mark": {"type": "bar", "strokeWidth": 1.4, "fillOpacity": 0.85},
       "encoding": {"x": {"field": "x0", "type": "quantitative", "scale": {"domain": [0, 40], "nice": false, "zero": false}, "axis": {"values": [0,5,10,15,20,25,30,35,40], "title": "standard deviation (%)"}}, "x2": {"field": "x1"},
        "y": {"field": "h", "type": "quantitative", "scale": {"domain": [0, 1], "nice": false}, "axis": null}, "y2": {"datum": 0},
        "color": {"field": "s", "type": "nominal", "scale": {"domain": ["subperiod 1","subperiod 2","mean s1","mean s2"], "range": ["#7aa0f0","#f29c7c","#3a6fe3","#eb6a3a"]}, "legend": null},
        "stroke": {"field": "s", "type": "nominal", "scale": {"domain": ["subperiod 1","subperiod 2"], "range": ["#1b3275","#6b2b12"]}, "legend": null}}},
      {"data": {"values": [{}]}, "mark": {"type": "rule", "color": "#6b2b12", "strokeWidth": 2}, "encoding": {"y": {"datum": 0}}},
      {"data": {"name": "means"}, "transform": [{"filter": "datum.p == 'd'"}], "mark": {"type": "rule", "strokeWidth": 2},
       "encoding": {"x": {"field": "v", "type": "quantitative", "axis": {"orient": "top", "labels": false, "title": null, "values": [0,5,10,15,20,25,30,35,40]}},
        "color": {"field": "s", "type": "nominal", "legend": null}}}
     ], "resolve": {"axis": {"x": "independent"}}},
    {"width": 492, "height": 208, "title": "(e) Price of metals and minerals Pˣ³: model",
     "layer": [
      {"data": {"name": "bars"}, "transform": [{"filter": "datum.p == 'e'"}], "mark": {"type": "bar", "strokeWidth": 1.4, "fillOpacity": 0.85},
       "encoding": {"x": {"field": "x0", "type": "quantitative", "scale": {"domain": [0, 50], "nice": false, "zero": false}, "axis": {"values": [0,5,10,15,20,25,30,35,40,45,50], "title": "standard deviation (%)"}}, "x2": {"field": "x1"},
        "y": {"field": "h", "type": "quantitative", "scale": {"domain": [0, 1], "nice": false}, "axis": null}, "y2": {"datum": 0},
        "color": {"field": "s", "type": "nominal", "scale": {"domain": ["subperiod 1","subperiod 2","mean s1","mean s2"], "range": ["#7aa0f0","#f29c7c","#3a6fe3","#eb6a3a"]}, "legend": null},
        "stroke": {"field": "s", "type": "nominal", "scale": {"domain": ["subperiod 1","subperiod 2"], "range": ["#1b3275","#6b2b12"]}, "legend": null}}},
      {"data": {"values": [{}]}, "mark": {"type": "rule", "color": "#6b2b12", "strokeWidth": 2}, "encoding": {"y": {"datum": 0}}},
      {"data": {"name": "means"}, "transform": [{"filter": "datum.p == 'e'"}], "mark": {"type": "rule", "strokeWidth": 2},
       "encoding": {"x": {"field": "v", "type": "quantitative", "axis": {"orient": "top", "labels": false, "title": null, "values": [0,5,10,15,20,25,30,35,40,45,50]}},
        "color": {"field": "s", "type": "nominal", "legend": null}}}
     ], "resolve": {"axis": {"x": "independent"}}},
    {"width": 492, "height": 208, "title": "(f) Price of metals and minerals Pˣ³: data",
     "layer": [
      {"data": {"name": "bars"}, "transform": [{"filter": "datum.p == 'f'"}], "mark": {"type": "bar", "strokeWidth": 1.4, "fillOpacity": 0.85},
       "encoding": {"x": {"field": "x0", "type": "quantitative", "scale": {"domain": [0, 50], "nice": false, "zero": false}, "axis": {"values": [0,5,10,15,20,25,30,35,40,45,50], "title": "standard deviation (%)"}}, "x2": {"field": "x1"},
        "y": {"field": "h", "type": "quantitative", "scale": {"domain": [0, 1], "nice": false}, "axis": null}, "y2": {"datum": 0},
        "color": {"field": "s", "type": "nominal", "scale": {"domain": ["subperiod 1","subperiod 2","mean s1","mean s2"], "range": ["#7aa0f0","#f29c7c","#3a6fe3","#eb6a3a"]}, "legend": null},
        "stroke": {"field": "s", "type": "nominal", "scale": {"domain": ["subperiod 1","subperiod 2"], "range": ["#1b3275","#6b2b12"]}, "legend": null}}},
      {"data": {"values": [{}]}, "mark": {"type": "rule", "color": "#6b2b12", "strokeWidth": 2}, "encoding": {"y": {"datum": 0}}},
      {"data": {"name": "means"}, "transform": [{"filter": "datum.p == 'f'"}], "mark": {"type": "rule", "strokeWidth": 2},
       "encoding": {"x": {"field": "v", "type": "quantitative", "axis": {"orient": "top", "labels": false, "title": null, "values": [0,5,10,15,20,25,30,35,40,45,50]}},
        "color": {"field": "s", "type": "nominal", "legend": null}}}
     ], "resolve": {"axis": {"x": "independent"}}}
  ]
}
